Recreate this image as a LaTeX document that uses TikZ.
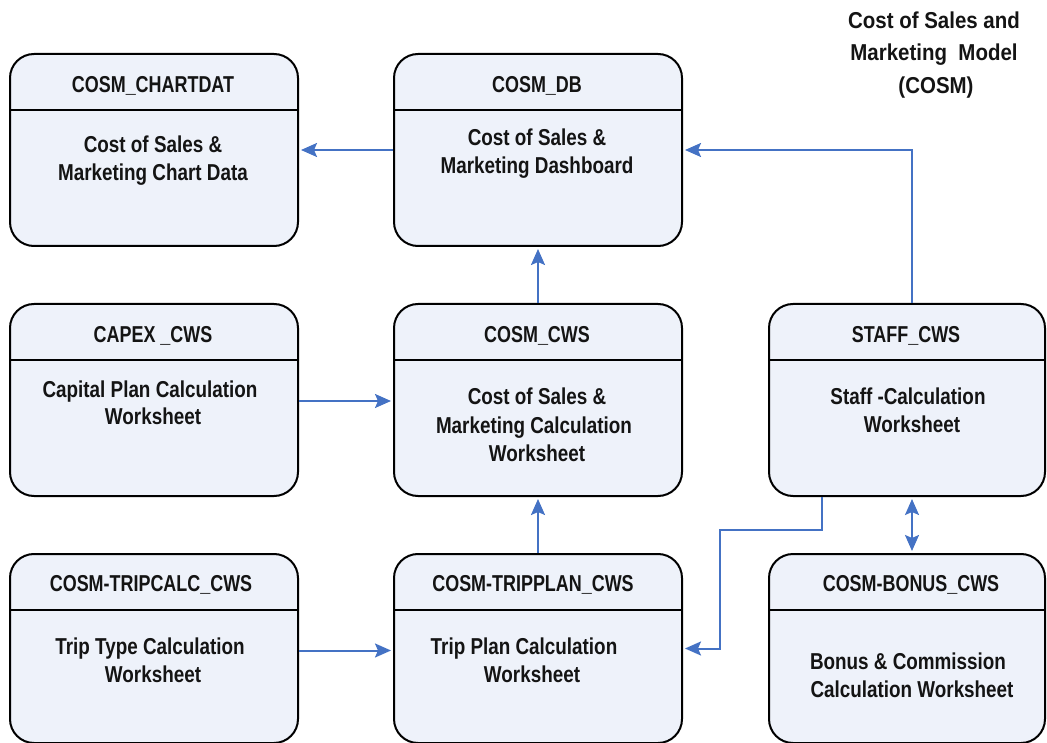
\documentclass[tikz,border=0pt]{standalone}
\usepackage{fontspec}
\usetikzlibrary{arrows.meta}
\newfontfamily\headsans{Liberation Sans Bold}[FakeStretch=0.78]
\newfontfamily\bodysans{Liberation Sans Bold}[FakeStretch=0.82]
\newfontfamily\capsans{Liberation Sans Bold}[FakeStretch=0.89]
\definecolor{boxfill}{RGB}{238,242,250}
\definecolor{linkblue}{RGB}{68,114,196}
\definecolor{ink}{RGB}{20,20,20}
\tikzset{
  module/.style={draw=black, line width=2pt, fill=boxfill, rounded corners=24pt,
    anchor=north west, inner sep=0pt, minimum width=288pt, minimum height=192pt},
  divider/.style={draw=black, line width=2pt},
  txt/.style={anchor=base, inner sep=0pt, text=ink, font=\bodysans\fontsize{23}{27}\selectfont},
  head/.style={txt, font=\headsans\fontsize{23}{27}\selectfont},
  modeltitle/.style={txt, font=\capsans\fontsize{23}{27}\selectfont},
  link/.style={draw=linkblue, line width=2pt, -{Stealth[length=16pt,width=14pt,inset=3pt]}, shorten >=2pt},
  twoway/.style={draw=linkblue, line width=2pt, {Stealth[length=16pt,width=14pt,inset=3pt]}-{Stealth[length=16pt,width=14pt,inset=3pt]}, shorten >=2pt, shorten <=2pt}
}
\begin{document}
\begin{tikzpicture}[x=1pt,y=-1pt]
\useasboundingbox (0,0) rectangle (1047,743);

% module boxes
\node[module] (chart) at (9,53) {};
\node[module] (db) at (393,53) {};
\node[module] (capex) at (9,303) {};
\node[module] (cws) at (393,303) {};
\node[module, minimum width=276pt] (staff) at (768,303) {};
\node[module, minimum height=189pt] (tripcalc) at (9,553) {};
\node[module, minimum height=189pt] (tripplan) at (393,553) {};
\node[module, minimum width=276pt, minimum height=189pt] (bonus) at (768,553) {};

% header dividers
\foreach \b in {chart,db,capex,cws,staff,tripcalc,tripplan,bonus}
  \draw[divider] ([yshift=-57pt]\b.north west) -- ([yshift=-57pt]\b.north east);

% headings
\node[head] (t1) at (153,93) {COSM\_CHARTDAT};
\node[head] (t2) at (537,93) {COSM\_DB};
\node[head] (t3) at (153,343) {CAPEX \_CWS};
\node[head] (t4) at (537,343) {COSM\_CWS};
\node[head] (t5) at (906,343) {STAFF\_CWS};
\node[head] (t6) at (151,591) {COSM-TRIPCALC\_CWS};
\node[head] (t7) at (533,591) {COSM-TRIPPLAN\_CWS};
\node[head] (t8) at (911,591) {COSM-BONUS\_CWS};

% descriptions
\node[txt] (d1a) at (153,153) {Cost of Sales \&};
\node[txt] (d1b) at (153,181) {Marketing Chart Data};
\node[txt] (d2a) at (537,145.5) {Cost of Sales \&};
\node[txt] (d2b) at (537,173.5) {Marketing Dashboard};
\node[txt] (d3a) at (150,397.5) {Capital Plan Calculation};
\node[txt] (d3b) at (153,424.5) {Worksheet};
\node[txt] (d4a) at (537,404.5) {Cost of Sales \&};
\node[txt] (d4b) at (534,433.5) {Marketing Calculation};
\node[txt] (d4c) at (537,461.5) {Worksheet};
\node[txt] (d5a) at (908,404.5) {Staff -Calculation};
\node[txt] (d5b) at (912,432.5) {Worksheet};
\node[txt] (d6a) at (150,654.5) {Trip Type Calculation};
\node[txt] (d6b) at (153,682.5) {Worksheet};
\node[txt] (d7a) at (524,654.5) {Trip Plan Calculation};
\node[txt] (d7b) at (532,682.5) {Worksheet};
\node[txt] (d8a) at (908,669.5) {Bonus \& Commission};
\node[txt] (d8b) at (912,697.5) {Calculation Worksheet};

% model title
\node[modeltitle] (h1) at (934,28.5) {Cost of Sales and};
\node[modeltitle] (h2) at (934,61) {Marketing\ \ Model};
\node[modeltitle] (h3) at (936,93.5) {(COSM)};

% data flows
\draw[link] (db.west) -- (chart.east);
\draw[link] ([xshift=5pt]staff.north) |- (db.east);
\draw[link] (cws.north) -- (db.south);
\draw[link] ([yshift=-1pt]capex.east) -- ([yshift=-1pt]cws.west);
\draw[link] (tripplan.north) -- (cws.south);
\draw[link] ([yshift=-2pt]tripcalc.east) -- ([yshift=-2pt]tripplan.east -| tripplan.west);
\draw[link] ([xshift=54pt]staff.south west) -- ++(0,33) -- ++(-102,0) |- (tripplan.east);
\draw[twoway] ([xshift=5pt]staff.south) -- ([xshift=5pt]bonus.north);
\end{tikzpicture}
\end{document}
